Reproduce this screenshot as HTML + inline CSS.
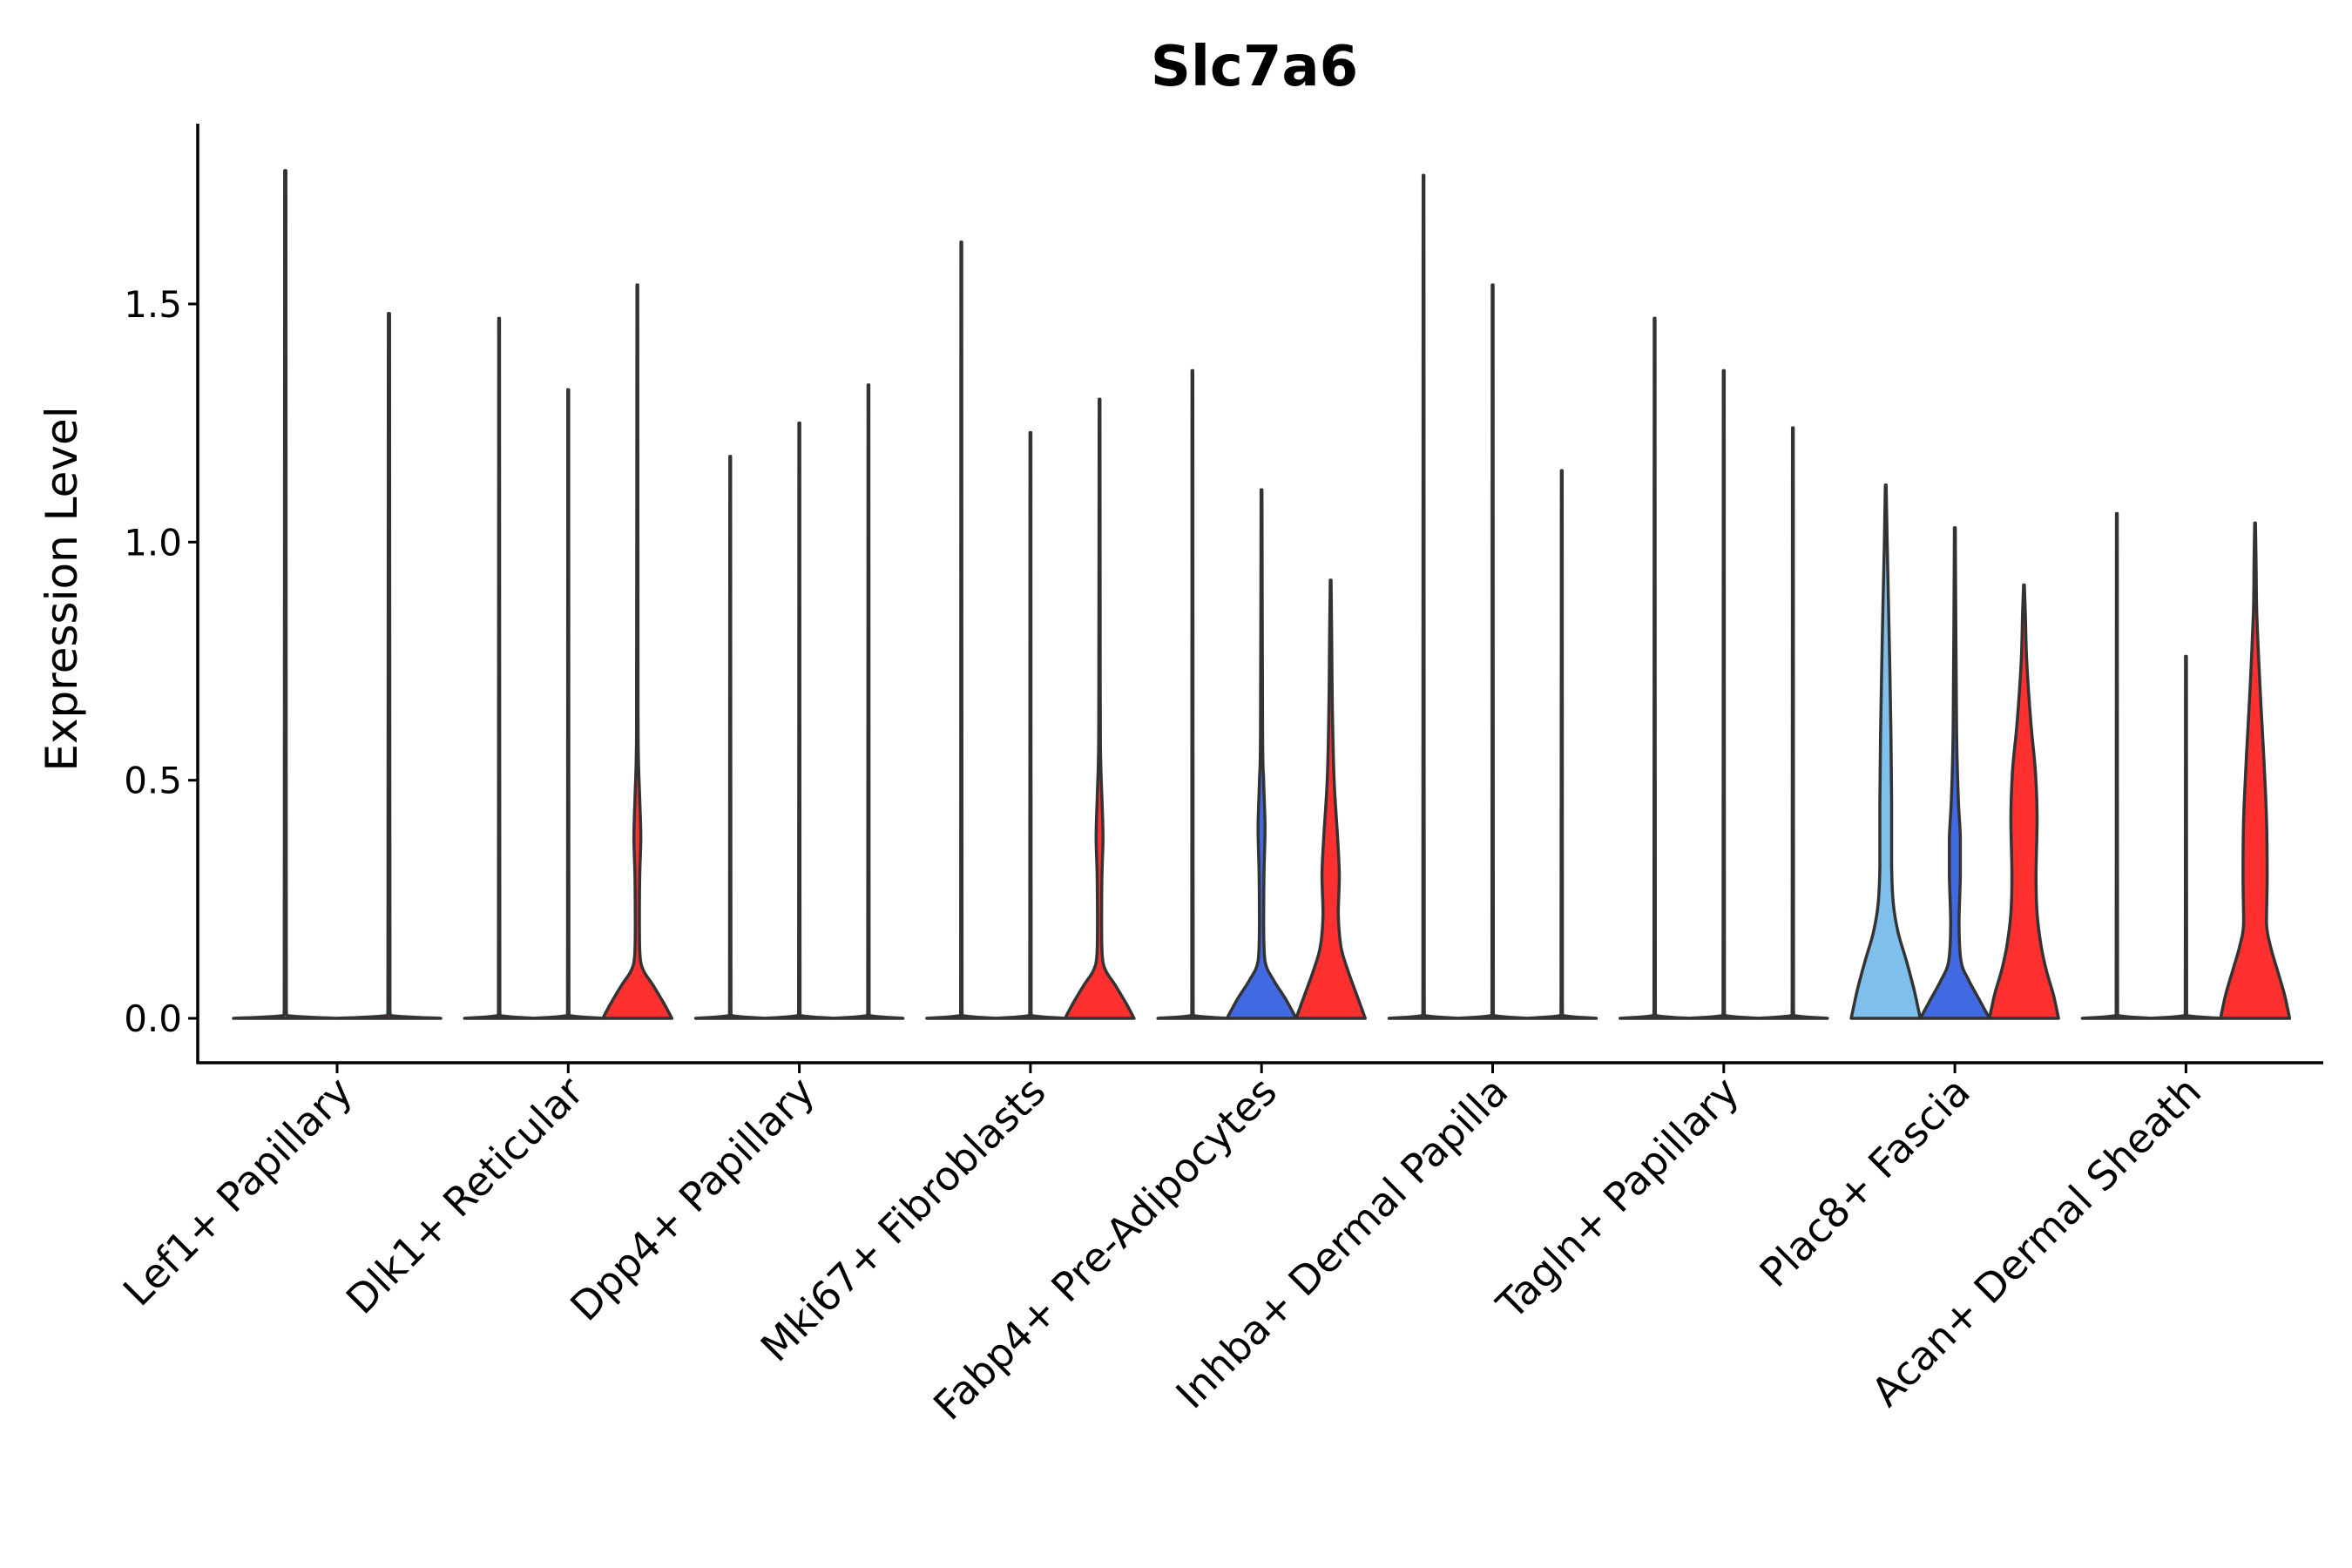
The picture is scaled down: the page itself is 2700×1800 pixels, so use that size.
<!DOCTYPE html>
<html><head><meta charset="utf-8">
<style>
html,body{margin:0;padding:0;background:#fff;}
svg{display:block;font-family:"DejaVu Sans","Liberation Sans",sans-serif;}
</style></head>
<body>
<svg id="chart" width="2700" height="1800" viewBox="0 0 2700 1800" xmlns="http://www.w3.org/2000/svg">
<text x="1440" y="98" font-size="64" font-weight="bold" text-anchor="middle" fill="#000">Slc7a6</text>
<text transform="translate(88,676) rotate(-90)" font-size="50" text-anchor="middle" fill="#000">Expression Level</text>
<g id="plot"></g>
</svg>
<script>
const categories = ["Lef1+ Papillary","Dlk1+ Reticular","Dpp4+ Papillary","Mki67+ Fibroblasts","Fabp4+ Pre-Adipocytes","Inhba+ Dermal Papilla","Tagln+ Papillary","Plac8+ Fascia","Acan+ Dermal Sheath"];
const yTicks = [0.0, 0.5, 1.0, 1.5];
const yTickLabels = ["0.0","0.5","1.0","1.5"];
const seriesColors = ["#7FBFEC","#4169E1","#FF3030"];
// number of sub-series present per group
const seriesCount = [2,3,3,3,3,3,3,3,3];
// max expression per group for each sub-series (null = absent)
const maxLeft  = [1.78,1.47,1.18,1.63,1.36,1.77,1.47,1.12,1.06];
const maxMid   = [null,1.32,1.25,1.23,1.11,1.54,1.36,1.03,0.76];
const maxRight = [1.48,1.54,1.33,1.30,0.92,1.15,1.24,0.91,1.04];
// density profiles: [value, half-width fraction]
const flatProfile = [[0,1],[0.006,0.03],[0.02,0.02]];
const redSpike = [[0,1],[0.03,0.78],[0.07,0.45],[0.1,0.18],[0.13,0.08],[0.2,0.06],[0.3,0.07],[0.38,0.1],[0.46,0.07],[0.55,0.03],[0.7,0.02]];
const fabBlue = [[0,1],[0.04,0.7],[0.08,0.35],[0.12,0.1],[0.2,0.06],[0.3,0.07],[0.4,0.1],[0.5,0.06],[0.6,0.03]];
const fabRed = [[0,1],[0.04,0.8],[0.1,0.5],[0.15,0.3],[0.22,0.22],[0.3,0.25],[0.38,0.2],[0.5,0.1],[0.65,0.05],[0.8,0.03]];
const placLight = [[0,1],[0.06,0.82],[0.12,0.6],[0.18,0.36],[0.24,0.22],[0.32,0.17],[0.45,0.17],[0.6,0.15],[0.8,0.1],[1.0,0.04]];
const placBlue = [[0,1],[0.04,0.7],[0.08,0.4],[0.12,0.18],[0.2,0.12],[0.3,0.16],[0.38,0.16],[0.46,0.1],[0.6,0.05],[0.8,0.03]];
const placRed = [[0,1],[0.05,0.85],[0.1,0.65],[0.15,0.5],[0.22,0.38],[0.3,0.35],[0.42,0.38],[0.52,0.33],[0.62,0.2],[0.75,0.08],[0.85,0.04]];
const acanRed = [[0,1],[0.05,0.85],[0.1,0.65],[0.15,0.45],[0.2,0.33],[0.3,0.35],[0.42,0.33],[0.55,0.25],[0.7,0.14],[0.85,0.05],[0.95,0.03]];
const profileLeft  = [null,null,null,null,null,null,null,placLight,null];
const profileMid   = [null,null,null,null,fabBlue,null,null,placBlue,null];
const profileRight = [null,redSpike,null,redSpike,fabRed,null,null,placRed,acanRed];

const NS="http://www.w3.org/2000/svg";
const plot=document.getElementById('plot');
const X0=227, X1=2667, YTOP=142, YAX=1220;
const y0px=1169, unit=546.7, groupW=238;
function yScale(v){return y0px - v*unit;}
function xScale(i){return 387 + i*265.3;}
function mk(tag,attrs){const e=document.createElementNS(NS,tag);for(const k in attrs)e.setAttribute(k,attrs[k]);plot.appendChild(e);return e;}

let a=mk('line',{x1:X0,y1:YTOP,x2:X0,y2:YAX+1.5,stroke:'#000','stroke-width':3.5});


a=mk('line',{x1:X0-1.5,y1:YAX,x2:X1,y2:YAX,stroke:'#000','stroke-width':3.5});



yTicks.forEach((v,i)=>{
  const t=mk('line',{x1:X0-11,y1:yScale(v),x2:X0,y2:yScale(v),stroke:'#000','stroke-width':3});
  
  
  const l=mk('text',{x:X0-18,y:yScale(v)+15,'font-size':42,'text-anchor':'end',fill:'#000'});
  l.textContent=yTickLabels[i];
  
  
});

categories.forEach((c,i)=>{
  const x=xScale(i);
  const t=mk('line',{x1:x,y1:YAX,x2:x,y2:YAX+12,stroke:'#000','stroke-width':3});
  
  
  const l=mk('text',{transform:`translate(${x+20},${YAX+36}) rotate(-45)`,'font-size':46,'text-anchor':'end',fill:'#000'});
  l.textContent=c;
  
  
});

function clamp(v,a,b){const lo=Math.min(a,b),hi=Math.max(a,b);return Math.max(lo,Math.min(hi,v));}
function smooth(pts){
  let d='M'+pts[0][0].toFixed(1)+','+pts[0][1].toFixed(1);
  for(let i=0;i<pts.length-1;i++){
    const p0=pts[Math.max(0,i-1)],p1=pts[i],p2=pts[i+1],p3=pts[Math.min(pts.length-1,i+2)];
    const c1=[clamp(p1[0]+(p2[0]-p0[0])/6,p1[0],p2[0]),clamp(p1[1]+(p2[1]-p0[1])/6,p1[1],p2[1])];
    const c2=[clamp(p2[0]-(p3[0]-p1[0])/6,p1[0],p2[0]),clamp(p2[1]-(p3[1]-p1[1])/6,p1[1],p2[1])];
    d+='C'+c1[0].toFixed(1)+','+c1[1].toFixed(1)+' '+c2[0].toFixed(1)+','+c2[1].toFixed(1)+' '+p2[0].toFixed(1)+','+p2[1].toFixed(1);
  }
  return d;
}
function violinPath(cx,hw,maxV,prof){
  const p=prof||flatProfile;
  const pts=[];
  p.forEach(([v,w])=>{ if(v<maxV) pts.push([v,w]); });
  pts.push([maxV,0.012]);
  const right=pts.map(([v,w])=>[cx+w*hw, yScale(v)]);
  const left=pts.slice().reverse().map(([v,w])=>[cx-w*hw, yScale(v)]);
  return smooth(right)+'L'+smooth(left).slice(1)+'Z';
}

const maxes=[maxLeft,maxMid,maxRight];
const profs=[profileLeft,profileMid,profileRight];
const names=['left','mid','right'];
categories.forEach((c,i)=>{
  const present=[0,1,2].filter(s=>maxes[s][i]!==null);
  const n=seriesCount[i];
  const slot=groupW/n, hw=slot/2;
  present.forEach((s,k)=>{
    const cx=xScale(i)-groupW/2+slot*(k+0.5);
    const p=mk('path',{d:violinPath(cx,hw,maxes[s][i],profs[s][i]),fill:seriesColors[s],stroke:'#333','stroke-width':3.5,'stroke-linejoin':'round'});
    
    
  });
});
</script>
</body></html>
